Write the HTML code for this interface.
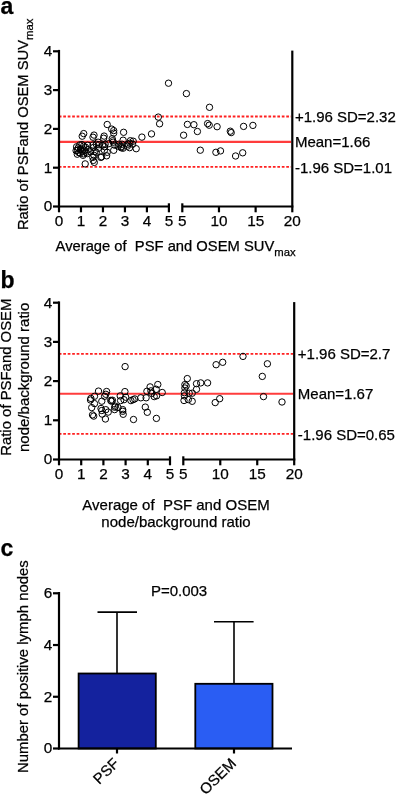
<!DOCTYPE html>
<html><head><meta charset="utf-8"><style>
html,body{margin:0;padding:0;background:#fff;}
svg{display:block;}
text{font-family:"Liberation Sans", sans-serif;fill:#000;stroke:#000;stroke-width:0.25px;}
svg{will-change:transform;}
</style></head><body>
<svg width="396" height="794" viewBox="0 0 396 794">
<rect width="396" height="794" fill="#fff"/>
<text x="0.5" y="13.5" text-anchor="start" font-size="23" font-weight="bold">a</text>
<line x1="58.8" y1="116.5" x2="291.1" y2="116.5" stroke="#ff2020" stroke-width="1.8" stroke-dasharray="2.7,1.76"/>
<line x1="59" y1="141.9" x2="291.1" y2="141.9" stroke="#ff3c3c" stroke-width="2.1"/>
<line x1="58.8" y1="166.9" x2="291.1" y2="166.9" stroke="#ff2020" stroke-width="1.8" stroke-dasharray="2.7,1.76"/>
<g fill="none" stroke="#000" stroke-width="1.0">
<circle cx="168.5" cy="83.2" r="3.2"/>
<circle cx="186.4" cy="93.6" r="3.2"/>
<circle cx="209.5" cy="107.3" r="3.2"/>
<circle cx="187.4" cy="124.4" r="3.2"/>
<circle cx="193.9" cy="124.7" r="3.2"/>
<circle cx="207.6" cy="123.6" r="3.2"/>
<circle cx="209.2" cy="125.2" r="3.2"/>
<circle cx="217.1" cy="126.7" r="3.2"/>
<circle cx="197.4" cy="131.5" r="3.2"/>
<circle cx="183.6" cy="135.2" r="3.2"/>
<circle cx="230.3" cy="131.2" r="3.2"/>
<circle cx="231.2" cy="132.6" r="3.2"/>
<circle cx="243.6" cy="126.4" r="3.2"/>
<circle cx="252.9" cy="125.4" r="3.2"/>
<circle cx="200.3" cy="150.2" r="3.2"/>
<circle cx="215.9" cy="152.3" r="3.2"/>
<circle cx="220.5" cy="150.9" r="3.2"/>
<circle cx="235.6" cy="156.0" r="3.2"/>
<circle cx="242.7" cy="152.8" r="3.2"/>
<circle cx="158.3" cy="117.1" r="3.2"/>
<circle cx="159.6" cy="123.8" r="3.2"/>
<circle cx="123.6" cy="132.3" r="3.2"/>
<circle cx="151.5" cy="133.9" r="3.2"/>
<circle cx="141.9" cy="137.1" r="3.2"/>
<circle cx="123.1" cy="140.2" r="3.2"/>
<circle cx="133.2" cy="141.2" r="3.2"/>
<circle cx="132.6" cy="144.2" r="3.2"/>
<circle cx="129.6" cy="147.7" r="3.2"/>
<circle cx="136.2" cy="148.7" r="3.2"/>
<circle cx="123.1" cy="148.2" r="3.2"/>
<circle cx="121.0" cy="146.7" r="3.2"/>
<circle cx="119.0" cy="144.2" r="3.2"/>
<circle cx="128.1" cy="144.2" r="3.2"/>
<circle cx="122.0" cy="144.2" r="3.2"/>
<circle cx="107.2" cy="124.5" r="3.2"/>
<circle cx="111.7" cy="129.1" r="3.2"/>
<circle cx="113.7" cy="130.6" r="3.2"/>
<circle cx="113.7" cy="133.1" r="3.2"/>
<circle cx="94.0" cy="135.1" r="3.2"/>
<circle cx="93.0" cy="137.2" r="3.2"/>
<circle cx="104.1" cy="136.1" r="3.2"/>
<circle cx="103.6" cy="138.2" r="3.2"/>
<circle cx="112.2" cy="138.7" r="3.2"/>
<circle cx="112.7" cy="140.7" r="3.2"/>
<circle cx="98.1" cy="142.2" r="3.2"/>
<circle cx="99.1" cy="144.7" r="3.2"/>
<circle cx="105.1" cy="144.2" r="3.2"/>
<circle cx="104.6" cy="146.7" r="3.2"/>
<circle cx="108.7" cy="143.7" r="3.2"/>
<circle cx="113.2" cy="142.2" r="3.2"/>
<circle cx="114.7" cy="145.2" r="3.2"/>
<circle cx="113.7" cy="150.3" r="3.2"/>
<circle cx="118.3" cy="146.2" r="3.2"/>
<circle cx="121.3" cy="147.8" r="3.2"/>
<circle cx="127.4" cy="146.2" r="3.2"/>
<circle cx="129.9" cy="143.2" r="3.2"/>
<circle cx="130.4" cy="140.7" r="3.2"/>
<circle cx="107.2" cy="152.3" r="3.2"/>
<circle cx="101.6" cy="156.8" r="3.2"/>
<circle cx="106.6" cy="155.8" r="3.2"/>
<circle cx="95.0" cy="151.3" r="3.2"/>
<circle cx="94.0" cy="155.3" r="3.2"/>
<circle cx="93.0" cy="145.0" r="3.2"/>
<circle cx="93.5" cy="147.5" r="3.2"/>
<circle cx="83.7" cy="133.6" r="3.2"/>
<circle cx="82.2" cy="136.2" r="3.2"/>
<circle cx="76.6" cy="146.8" r="3.2"/>
<circle cx="76.1" cy="150.6" r="3.2"/>
<circle cx="77.3" cy="154.2" r="3.2"/>
<circle cx="79.8" cy="144.9" r="3.2"/>
<circle cx="80.6" cy="149.2" r="3.2"/>
<circle cx="80.2" cy="153.0" r="3.2"/>
<circle cx="83.6" cy="146.1" r="3.2"/>
<circle cx="84.4" cy="150.4" r="3.2"/>
<circle cx="83.1" cy="155.3" r="3.2"/>
<circle cx="87.6" cy="145.2" r="3.2"/>
<circle cx="88.1" cy="149.6" r="3.2"/>
<circle cx="87.3" cy="153.6" r="3.2"/>
<circle cx="90.5" cy="151.8" r="3.2"/>
<circle cx="78.2" cy="147.9" r="3.2"/>
<circle cx="81.9" cy="144.6" r="3.2"/>
<circle cx="82.3" cy="151.2" r="3.2"/>
<circle cx="78.8" cy="152.6" r="3.2"/>
<circle cx="85.6" cy="147.3" r="3.2"/>
<circle cx="85.9" cy="152.4" r="3.2"/>
<circle cx="80.9" cy="148.9" r="3.2"/>
<circle cx="77.5" cy="150.3" r="3.2"/>
<circle cx="83.5" cy="153.8" r="3.2"/>
<circle cx="92.8" cy="157.4" r="3.2"/>
<circle cx="93.3" cy="160.4" r="3.2"/>
<circle cx="94.3" cy="162.4" r="3.2"/>
<circle cx="85.2" cy="163.9" r="3.2"/>
<circle cx="96.3" cy="152.3" r="3.2"/>
<circle cx="98.3" cy="148.3" r="3.2"/>
<circle cx="96.3" cy="144.2" r="3.2"/>
<circle cx="100.8" cy="157.4" r="3.2"/>
<circle cx="102.4" cy="145.3" r="3.2"/>
<circle cx="104.4" cy="150.3" r="3.2"/>
</g>
<line x1="59" y1="49.9" x2="59" y2="207.6" stroke="#000" stroke-width="2.2"/>
<line x1="53" y1="206.5" x2="59" y2="206.5" stroke="#000" stroke-width="2.2"/>
<text x="52.2" y="211.3" text-anchor="end" font-size="15.3">0</text>
<line x1="53" y1="167.7" x2="59" y2="167.7" stroke="#000" stroke-width="2.2"/>
<text x="52.2" y="172.5" text-anchor="end" font-size="15.3">1</text>
<line x1="53" y1="128.9" x2="59" y2="128.9" stroke="#000" stroke-width="2.2"/>
<text x="52.2" y="133.70000000000002" text-anchor="end" font-size="15.3">2</text>
<line x1="53" y1="90.10000000000001" x2="59" y2="90.10000000000001" stroke="#000" stroke-width="2.2"/>
<text x="52.2" y="94.9" text-anchor="end" font-size="15.3">3</text>
<line x1="53" y1="51.30000000000001" x2="59" y2="51.30000000000001" stroke="#000" stroke-width="2.2"/>
<text x="52.2" y="56.10000000000001" text-anchor="end" font-size="15.3">4</text>
<line x1="58" y1="206.5" x2="168.9" y2="206.5" stroke="#000" stroke-width="2.2"/>
<line x1="59.0" y1="206.5" x2="59.0" y2="212.3" stroke="#000" stroke-width="2.2"/>
<text x="59.0" y="226.3" text-anchor="middle" font-size="15.3">0</text>
<line x1="80.98" y1="206.5" x2="80.98" y2="212.3" stroke="#000" stroke-width="2.2"/>
<text x="80.98" y="226.3" text-anchor="middle" font-size="15.3">1</text>
<line x1="102.96000000000001" y1="206.5" x2="102.96000000000001" y2="212.3" stroke="#000" stroke-width="2.2"/>
<text x="102.96000000000001" y="226.3" text-anchor="middle" font-size="15.3">2</text>
<line x1="124.94" y1="206.5" x2="124.94" y2="212.3" stroke="#000" stroke-width="2.2"/>
<text x="124.94" y="226.3" text-anchor="middle" font-size="15.3">3</text>
<line x1="146.92000000000002" y1="206.5" x2="146.92000000000002" y2="212.3" stroke="#000" stroke-width="2.2"/>
<text x="146.92000000000002" y="226.3" text-anchor="middle" font-size="15.3">4</text>
<line x1="168.9" y1="203.3" x2="168.9" y2="212.3" stroke="#000" stroke-width="2.2"/>
<text x="168.9" y="226.3" text-anchor="middle" font-size="15.3">5</text>
<line x1="182.3" y1="206.5" x2="293.40000000000003" y2="206.5" stroke="#000" stroke-width="2.2"/>
<line x1="182.3" y1="203.3" x2="182.3" y2="212.3" stroke="#000" stroke-width="2.2"/>
<text x="182.3" y="226.3" text-anchor="middle" font-size="15.3">5</text>
<line x1="218.96666666666667" y1="206.5" x2="218.96666666666667" y2="212.3" stroke="#000" stroke-width="2.2"/>
<text x="218.96666666666667" y="226.3" text-anchor="middle" font-size="15.3">10</text>
<line x1="255.63333333333333" y1="206.5" x2="255.63333333333333" y2="212.3" stroke="#000" stroke-width="2.2"/>
<text x="255.63333333333333" y="226.3" text-anchor="middle" font-size="15.3">15</text>
<line x1="292.3" y1="206.5" x2="292.3" y2="212.3" stroke="#000" stroke-width="2.2"/>
<text x="292.3" y="226.3" text-anchor="middle" font-size="15.3">20</text>
<line x1="292.3" y1="50.6" x2="292.3" y2="206.5" stroke="#000" stroke-width="2.2"/>
<text x="294.90000000000003" y="121.9" text-anchor="start" font-size="15">+1.96 SD=2.32</text>
<text x="294.90000000000003" y="147.4" text-anchor="start" font-size="15">Mean=1.66</text>
<text x="294.90000000000003" y="172.8" text-anchor="start" font-size="15">-1.96 SD=1.01</text>
<text transform="translate(28.1,230.1) rotate(-90)" font-size="14.75">Ratio of PSFand OSEM SUV<tspan font-size="11.3" dy="4.6">max</tspan></text>
<text x="55.6" y="250.9" text-anchor="start" font-size="14.75">Average of&#160; PSF and OSEM SUV<tspan font-size="11.3" dy="4.6">max</tspan></text>
<text x="0.5" y="287.5" text-anchor="start" font-size="23" font-weight="bold">b</text>
<line x1="58.8" y1="353.8" x2="293.0" y2="353.8" stroke="#ff2020" stroke-width="1.8" stroke-dasharray="2.7,1.76"/>
<line x1="59" y1="393.8" x2="293.0" y2="393.8" stroke="#ff3c3c" stroke-width="2.1"/>
<line x1="58.8" y1="433.8" x2="293.0" y2="433.8" stroke="#ff2020" stroke-width="1.8" stroke-dasharray="2.7,1.76"/>
<g fill="none" stroke="#000" stroke-width="1.0">
<circle cx="98.5" cy="391.1" r="3.2"/>
<circle cx="106.6" cy="391.5" r="3.2"/>
<circle cx="105.8" cy="394.3" r="3.2"/>
<circle cx="94.5" cy="396.3" r="3.2"/>
<circle cx="90.9" cy="398.4" r="3.2"/>
<circle cx="90.5" cy="400.0" r="3.2"/>
<circle cx="94.5" cy="403.6" r="3.2"/>
<circle cx="91.7" cy="407.6" r="3.2"/>
<circle cx="92.5" cy="414.9" r="3.2"/>
<circle cx="93.7" cy="416.1" r="3.2"/>
<circle cx="101.8" cy="401.2" r="3.2"/>
<circle cx="104.6" cy="396.3" r="3.2"/>
<circle cx="110.7" cy="400.4" r="3.2"/>
<circle cx="111.5" cy="401.2" r="3.2"/>
<circle cx="101.0" cy="408.5" r="3.2"/>
<circle cx="101.8" cy="410.5" r="3.2"/>
<circle cx="102.2" cy="414.1" r="3.2"/>
<circle cx="105.4" cy="419.0" r="3.2"/>
<circle cx="108.2" cy="412.1" r="3.2"/>
<circle cx="105.8" cy="409.7" r="3.2"/>
<circle cx="114.7" cy="407.2" r="3.2"/>
<circle cx="124.9" cy="391.6" r="3.2"/>
<circle cx="120.2" cy="395.9" r="3.2"/>
<circle cx="125.7" cy="397.2" r="3.2"/>
<circle cx="120.6" cy="400.6" r="3.2"/>
<circle cx="124.0" cy="399.7" r="3.2"/>
<circle cx="130.9" cy="400.6" r="3.2"/>
<circle cx="133.0" cy="399.7" r="3.2"/>
<circle cx="134.7" cy="398.9" r="3.2"/>
<circle cx="112.4" cy="400.2" r="3.2"/>
<circle cx="115.4" cy="406.2" r="3.2"/>
<circle cx="118.0" cy="407.5" r="3.2"/>
<circle cx="114.6" cy="409.6" r="3.2"/>
<circle cx="122.7" cy="409.6" r="3.2"/>
<circle cx="122.7" cy="411.3" r="3.2"/>
<circle cx="123.2" cy="414.3" r="3.2"/>
<circle cx="133.5" cy="419.5" r="3.2"/>
<circle cx="157.8" cy="384.5" r="3.2"/>
<circle cx="150.1" cy="386.9" r="3.2"/>
<circle cx="156.2" cy="389.3" r="3.2"/>
<circle cx="146.9" cy="391.3" r="3.2"/>
<circle cx="150.9" cy="390.9" r="3.2"/>
<circle cx="151.7" cy="393.4" r="3.2"/>
<circle cx="154.2" cy="396.6" r="3.2"/>
<circle cx="162.2" cy="392.5" r="3.2"/>
<circle cx="140.8" cy="397.8" r="3.2"/>
<circle cx="146.1" cy="397.8" r="3.2"/>
<circle cx="145.3" cy="407.1" r="3.2"/>
<circle cx="147.3" cy="412.3" r="3.2"/>
<circle cx="156.4" cy="418.4" r="3.2"/>
<circle cx="156.6" cy="395.8" r="3.2"/>
<circle cx="125.1" cy="366.6" r="3.2"/>
<circle cx="243.0" cy="356.4" r="3.2"/>
<circle cx="222.7" cy="362.3" r="3.2"/>
<circle cx="216.1" cy="364.7" r="3.2"/>
<circle cx="267.4" cy="363.8" r="3.2"/>
<circle cx="262.3" cy="376.4" r="3.2"/>
<circle cx="207.6" cy="382.9" r="3.2"/>
<circle cx="200.7" cy="382.9" r="3.2"/>
<circle cx="196.5" cy="383.7" r="3.2"/>
<circle cx="196.5" cy="389.3" r="3.2"/>
<circle cx="187.3" cy="378.6" r="3.2"/>
<circle cx="184.9" cy="384.6" r="3.2"/>
<circle cx="186.2" cy="385.9" r="3.2"/>
<circle cx="184.9" cy="388.0" r="3.2"/>
<circle cx="184.4" cy="392.7" r="3.2"/>
<circle cx="189.2" cy="393.2" r="3.2"/>
<circle cx="192.2" cy="393.2" r="3.2"/>
<circle cx="184.0" cy="400.5" r="3.2"/>
<circle cx="188.3" cy="399.6" r="3.2"/>
<circle cx="192.2" cy="401.3" r="3.2"/>
<circle cx="184.4" cy="395.8" r="3.2"/>
<circle cx="219.7" cy="398.7" r="3.2"/>
<circle cx="215.2" cy="402.6" r="3.2"/>
<circle cx="263.5" cy="396.6" r="3.2"/>
<circle cx="282.0" cy="402.0" r="3.2"/>
</g>
<line x1="59" y1="301.40000000000003" x2="59" y2="460.6" stroke="#000" stroke-width="2.2"/>
<line x1="53" y1="459.5" x2="59" y2="459.5" stroke="#000" stroke-width="2.2"/>
<text x="52.2" y="464.3" text-anchor="end" font-size="15.3">0</text>
<line x1="53" y1="420.3" x2="59" y2="420.3" stroke="#000" stroke-width="2.2"/>
<text x="52.2" y="425.1" text-anchor="end" font-size="15.3">1</text>
<line x1="53" y1="381.1" x2="59" y2="381.1" stroke="#000" stroke-width="2.2"/>
<text x="52.2" y="385.90000000000003" text-anchor="end" font-size="15.3">2</text>
<line x1="53" y1="341.9" x2="59" y2="341.9" stroke="#000" stroke-width="2.2"/>
<text x="52.2" y="346.7" text-anchor="end" font-size="15.3">3</text>
<line x1="53" y1="302.7" x2="59" y2="302.7" stroke="#000" stroke-width="2.2"/>
<text x="52.2" y="307.5" text-anchor="end" font-size="15.3">4</text>
<line x1="58" y1="459.5" x2="170" y2="459.5" stroke="#000" stroke-width="2.2"/>
<line x1="59.0" y1="459.5" x2="59.0" y2="465.3" stroke="#000" stroke-width="2.2"/>
<text x="59.0" y="479.3" text-anchor="middle" font-size="15.3">0</text>
<line x1="81.2" y1="459.5" x2="81.2" y2="465.3" stroke="#000" stroke-width="2.2"/>
<text x="81.2" y="479.3" text-anchor="middle" font-size="15.3">1</text>
<line x1="103.4" y1="459.5" x2="103.4" y2="465.3" stroke="#000" stroke-width="2.2"/>
<text x="103.4" y="479.3" text-anchor="middle" font-size="15.3">2</text>
<line x1="125.6" y1="459.5" x2="125.6" y2="465.3" stroke="#000" stroke-width="2.2"/>
<text x="125.6" y="479.3" text-anchor="middle" font-size="15.3">3</text>
<line x1="147.8" y1="459.5" x2="147.8" y2="465.3" stroke="#000" stroke-width="2.2"/>
<text x="147.8" y="479.3" text-anchor="middle" font-size="15.3">4</text>
<line x1="170.0" y1="456.3" x2="170.0" y2="465.3" stroke="#000" stroke-width="2.2"/>
<text x="170.0" y="479.3" text-anchor="middle" font-size="15.3">5</text>
<line x1="183.3" y1="459.5" x2="295.3" y2="459.5" stroke="#000" stroke-width="2.2"/>
<line x1="183.3" y1="456.3" x2="183.3" y2="465.3" stroke="#000" stroke-width="2.2"/>
<text x="183.3" y="479.3" text-anchor="middle" font-size="15.3">5</text>
<line x1="220.26666666666668" y1="459.5" x2="220.26666666666668" y2="465.3" stroke="#000" stroke-width="2.2"/>
<text x="220.26666666666668" y="479.3" text-anchor="middle" font-size="15.3">10</text>
<line x1="257.23333333333335" y1="459.5" x2="257.23333333333335" y2="465.3" stroke="#000" stroke-width="2.2"/>
<text x="257.23333333333335" y="479.3" text-anchor="middle" font-size="15.3">15</text>
<line x1="294.2" y1="459.5" x2="294.2" y2="465.3" stroke="#000" stroke-width="2.2"/>
<text x="294.2" y="479.3" text-anchor="middle" font-size="15.3">20</text>
<line x1="294.2" y1="302.1" x2="294.2" y2="459.5" stroke="#000" stroke-width="2.2"/>
<text x="297.8" y="359.3" text-anchor="start" font-size="15">+1.96 SD=2.7</text>
<text x="297.8" y="399.4" text-anchor="start" font-size="15">Mean=1.67</text>
<text x="297.8" y="439.6" text-anchor="start" font-size="15">-1.96 SD=0.65</text>
<text transform="translate(11.1,455.8) rotate(-90)" font-size="14.9">Ratio of PSFand OSEM</text>
<text transform="translate(28.8,452) rotate(-90)" font-size="15">node/background ratio</text>
<text x="176" y="510.2" text-anchor="middle" font-size="15">Average of&#160; PSF and OSEM</text>
<text x="176" y="526.6" text-anchor="middle" font-size="15">node/background ratio</text>
<text x="0.5" y="556" text-anchor="start" font-size="23" font-weight="bold">c</text>
<rect x="78.6" y="673.5" width="77.2" height="75.0" fill="#14229e" stroke="#000" stroke-width="1.8"/>
<rect x="195.3" y="683.8" width="77.2" height="64.7" fill="#2a5df3" stroke="#000" stroke-width="1.8"/>
<line x1="117" y1="673.477" x2="117" y2="612.1650999999999" stroke="#000" stroke-width="1.6"/>
<line x1="97.5" y1="612.1650999999999" x2="137" y2="612.1650999999999" stroke="#000" stroke-width="1.6"/>
<line x1="234" y1="683.825" x2="234" y2="621.737" stroke="#000" stroke-width="1.6"/>
<line x1="214" y1="621.737" x2="253.6" y2="621.737" stroke="#000" stroke-width="1.6"/>
<line x1="59" y1="592" x2="59" y2="749.5" stroke="#000" stroke-width="2.2"/>
<line x1="53" y1="748.5" x2="59" y2="748.5" stroke="#000" stroke-width="2.2"/>
<text x="52.2" y="753.3" text-anchor="end" font-size="15.3">0</text>
<line x1="53" y1="696.76" x2="59" y2="696.76" stroke="#000" stroke-width="2.2"/>
<text x="52.2" y="701.56" text-anchor="end" font-size="15.3">2</text>
<line x1="53" y1="645.02" x2="59" y2="645.02" stroke="#000" stroke-width="2.2"/>
<text x="52.2" y="649.8199999999999" text-anchor="end" font-size="15.3">4</text>
<line x1="53" y1="593.28" x2="59" y2="593.28" stroke="#000" stroke-width="2.2"/>
<text x="52.2" y="598.0799999999999" text-anchor="end" font-size="15.3">6</text>
<line x1="58" y1="748.5" x2="292" y2="748.5" stroke="#000" stroke-width="2.2"/>
<line x1="117" y1="748.5" x2="117" y2="753.5" stroke="#000" stroke-width="2.2"/>
<line x1="234" y1="748.5" x2="234" y2="753.5" stroke="#000" stroke-width="2.2"/>
<text x="207.2" y="595.9" text-anchor="end" font-size="15">P=0.003</text>
<text transform="translate(120,764.3) rotate(-45)" font-size="15" text-anchor="end">PSF</text>
<text transform="translate(237,764.3) rotate(-45)" font-size="15" text-anchor="end">OSEM</text>
<text transform="translate(28.1,773) rotate(-90)" font-size="14.9">Number of positive lymph nodes</text>
</svg>
</body></html>
